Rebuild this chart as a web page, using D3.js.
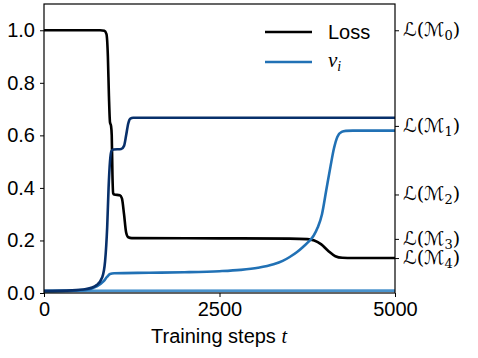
<!DOCTYPE html>
<html>
<head>
<meta charset="utf-8">
<script src="https://cdn.jsdelivr.net/npm/d3@7"></script>
<style>
  body { margin: 0; background: #fff; }
  svg { display: block; }
  .tick text { font-family: "Liberation Sans", Arial, sans-serif; }
</style>
</head>
<body>
<svg id="chart" width="478" height="358"></svg>
<script>
// Data
var lossSteps  = [0, 800, 860, 890, 910, 925, 940, 955, 965, 975, 985, 1000, 1080, 1110, 1140, 1170, 1200, 1250, 2500, 3500, 3750, 3850, 3950, 4050, 4150, 4250, 4400, 5000]
var lossValues = [1.0, 1.0, 0.998, 0.985, 0.9, 0.75, 0.65, 0.636, 0.6, 0.45, 0.38, 0.375, 0.372, 0.36, 0.3, 0.23, 0.212, 0.209, 0.208, 0.207, 0.205, 0.2, 0.185, 0.16, 0.14, 0.134, 0.133, 0.133]

var v1Steps  = [0, 400, 600, 750, 830, 870, 900, 920, 940, 960, 990, 1100, 1140, 1170, 1200, 1230, 1270, 5000]
var v1Values = [0.008, 0.01, 0.015, 0.03, 0.06, 0.12, 0.25, 0.4, 0.5, 0.54, 0.546, 0.548, 0.56, 0.6, 0.645, 0.664, 0.667, 0.667]

var v2Steps  = [0, 600, 750, 850, 900, 940, 1000, 1500, 2000, 2500, 2800, 3050, 3270, 3400, 3500, 3600, 3700, 3780, 3840, 3900, 3960, 4020, 4080, 4130, 4180, 4240, 4300, 4400, 5000]
var v2Values = [0.006, 0.012, 0.025, 0.045, 0.062, 0.072, 0.075, 0.077, 0.079, 0.083, 0.088, 0.096, 0.109, 0.122, 0.137, 0.155, 0.178, 0.198, 0.218, 0.25, 0.3, 0.39, 0.48, 0.55, 0.595, 0.613, 0.617, 0.618, 0.618]

var v3Steps  = [0, 5000]
var v3Values = [0.008, 0.009]

var yTicks = [0, 0.2, 0.4, 0.6, 0.8, 1.0]
var xTicks = [0, 2500, 5000]
var levelValues = [1.0, 0.636, 0.375, 0.206, 0.133]
var levelIndex  = ["0", "1", "2", "3", "4"]

var svg = d3.select("#chart")
var mLeft = 44, mRight = 395, mTop = 4, mBottom = 293

var x = d3.scaleLinear().domain([0, 5000]).range([mLeft, mRight])
var y = d3.scaleLinear().domain([0, 1.1]).range([mBottom, mTop])

function zip(ts, vs) { return ts.map((t, i) => [t, vs[i]]) }

var line = d3.line()
  .x(d => x(d[0]))
  .y(d => y(d[1]))
  .curve(d3.curveMonotoneX)

// lines
var series = [
  {data: zip(lossSteps, lossValues), color: "#000000"},
  {data: zip(v3Steps, v3Values), color: "#4a93cd"},
  {data: zip(v2Steps, v2Values), color: "#2171b5"},
  {data: zip(v1Steps, v1Values), color: "#08306b"}
]
svg.append("g").selectAll("path")
  .data(series)
  .join("path")
  .attr("d", d => line(d.data))
  .attr("fill", "none")
  .attr("stroke", d => d.color)
  .attr("stroke-width", 2.6)
  .attr("stroke-linejoin", "round")

// axes
var yAxis = svg.append("g")
  .attr("transform", "translate(" + mLeft + ",0)")
  .call(d3.axisLeft(y).tickValues(yTicks).tickFormat(d3.format(".1f")).tickSizeOuter(0).tickSize(4).tickPadding(5))
var xAxis = svg.append("g")
  .attr("transform", "translate(0," + mBottom + ")")
  .call(d3.axisBottom(x).tickValues(xTicks).tickFormat(d3.format("d")).tickSizeOuter(0).tickSize(4).tickPadding(5))
var rAxis = svg.append("g")
  .attr("transform", "translate(" + mRight + ",0)")
  .call(d3.axisRight(y).tickValues(levelValues).tickFormat("").tickSizeOuter(0).tickSize(4))

;[yAxis, xAxis, rAxis].forEach(g => {
  g.select(".domain").remove()
  g.selectAll(".tick line").attr("stroke", "#000").attr("stroke-width", 1)
  g.selectAll(".tick text").attr("font-size", 20).attr("fill", "#000")
})

// box
svg.append("rect")
  .attr("x", mLeft).attr("y", mTop)
  .attr("width", mRight - mLeft).attr("height", mBottom - mTop)
  .attr("fill", "none").attr("stroke", "#000").attr("stroke-width", 1.2)

// right labels  L(M_k)
var lab = svg.append("g").selectAll("text")
  .data(levelValues)
  .join("text")
  .attr("x", mRight + 8)
  .attr("y", d => y(d))
  .attr("dy", "0.3em")
  .attr("font-family", "'DejaVu Serif', 'DejaVu Sans', serif")
  .attr("font-size", 19)
  .attr("fill", "#000")
lab.append("tspan").text("\u2112(\u2133")
lab.append("tspan").attr("font-size", 13).attr("dy", 4).text((d, i) => levelIndex[i])
lab.append("tspan").attr("dy", -4).text(")")

// x label
var xl = svg.append("text")
  .attr("x", 219).attr("y", 343)
  .attr("text-anchor", "middle")
  .attr("font-family", "'Liberation Sans', Arial, sans-serif")
  .attr("font-size", 20)
xl.append("tspan").text("Training steps ")
xl.append("tspan").attr("font-family", "'Liberation Serif', serif").attr("font-style", "italic").text("t")

// legend
var legend = svg.append("g")
legend.append("line").attr("x1", 265).attr("x2", 312).attr("y1", 32).attr("y2", 32)
  .attr("stroke", "#000").attr("stroke-width", 2.6)
legend.append("text").attr("x", 328).attr("y", 39)
  .attr("font-family", "'Liberation Sans', Arial, sans-serif").attr("font-size", 20).text("Loss")
legend.append("line").attr("x1", 265).attr("x2", 312).attr("y1", 62).attr("y2", 62)
  .attr("stroke", "#2171b5").attr("stroke-width", 2.6)
var vt = legend.append("text").attr("x", 328).attr("y", 67)
  .attr("font-family", "'Liberation Serif', serif").attr("font-style", "italic").attr("font-size", 21)
vt.append("tspan").text("v")
vt.append("tspan").attr("font-size", 14).attr("dy", 4).text("i")
</script>
</body>
</html>
